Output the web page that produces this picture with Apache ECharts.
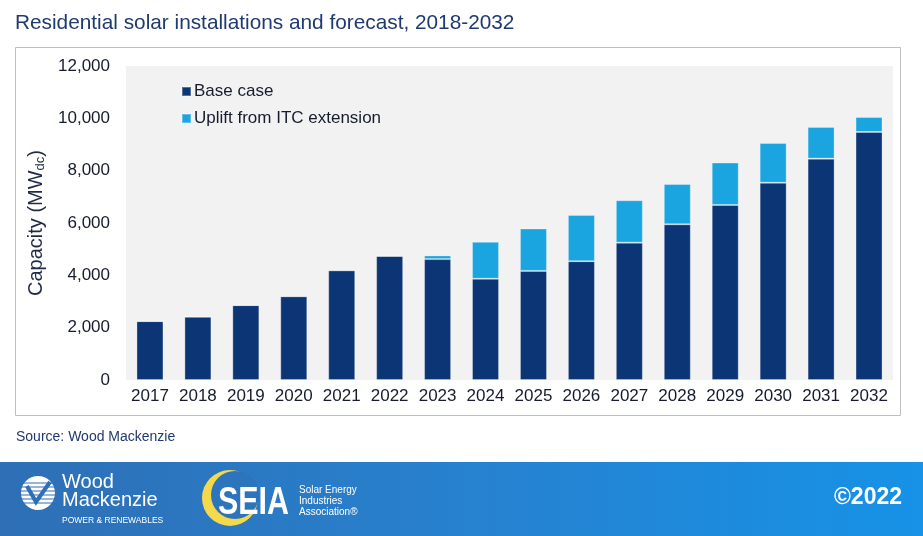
<!DOCTYPE html>
<html>
<head>
<meta charset="utf-8">
<script src="https://cdn.jsdelivr.net/npm/echarts@6/dist/echarts.min.js"></script>
<style>
html,body{margin:0;padding:0;background:#fff;}
#chart{width:923px;height:536px;}
</style>
</head>
<body>
<div id="chart"></div>
<script>
// ---- data ----
const categories = ['2017','2018','2019','2020','2021','2022','2023','2024','2025','2026','2027','2028','2029','2030','2031','2032'];
const baseCase = [2250, 2420, 2860, 3200, 4190, 4740, 4620, 3870, 4170, 4540, 5250, 5950, 6690, 7540, 8460, 9480];
const uplift   = [0, 0, 0, 0, 0, 0, 140, 1410, 1620, 1770, 1620, 1540, 1620, 1520, 1210, 570];
const yTicks = { min: 0, max: 12000, interval: 2000 };
const seriesNames = ['Base case', 'Uplift from ITC extension'];

const FONT = 'Liberation Sans, Arial, sans-serif';
const chart = echarts.init(document.getElementById('chart'), null, { renderer: 'canvas' });

const option = {
  backgroundColor: '#ffffff',
  animation: false,
  title: {
    text: 'Residential solar installations and forecast, 2018-2032',
    left: 10, top: 8,
    textStyle: { fontFamily: FONT, fontSize: 20.8, fontWeight: 'normal', color: '#1f3a6e' }
  },
  grid: {
    left: 126, top: 66, right: 30, bottom: 156,
    show: true, backgroundColor: '#f2f2f2', borderWidth: 0
  },
  legend: {
    orient: 'vertical', left: 181, top: 83, padding: 0,
    itemWidth: 9, itemHeight: 9, itemGap: 10, icon: 'rect',
    data: seriesNames,
    textStyle: { fontFamily: FONT, fontSize: 17, color: '#161c2e', padding: [0, 0, 0, -2] }
  },
  xAxis: {
    type: 'category', data: categories,
    axisLine: { show: false }, axisTick: { show: false },
    axisLabel: { interval: 0, fontFamily: FONT, fontSize: 17, color: '#161c2e', margin: 8 }
  },
  yAxis: {
    type: 'value', min: yTicks.min, max: yTicks.max, interval: yTicks.interval,
    splitLine: { show: false }, axisLine: { show: false }, axisTick: { show: false },
    axisLabel: {
      fontFamily: FONT, fontSize: 17, color: '#161c2e', margin: 16,
      formatter: v => v.toLocaleString('en-US')
    },
    name: 'Capacity (MW{sub|dc})',
    nameLocation: 'middle', nameRotate: 90, nameGap: 77,
    nameTextStyle: {
      fontFamily: FONT, fontSize: 20, color: '#1f2a44',
      rich: { sub: { fontFamily: FONT, fontSize: 13, color: '#1f2a44', padding: [9, 0, 0, 0] } }
    }
  },
  series: [
    {
      name: seriesNames[0], type: 'bar', stack: 'total', data: baseCase,
      barWidth: 27,
      itemStyle: { color: '#0c3576', borderColor: 'rgba(255,255,255,0.3)', borderWidth: 1 }
    },
    {
      name: seriesNames[1], type: 'bar', stack: 'total', data: uplift,
      barWidth: 27,
      itemStyle: { color: '#1ba5e0', borderColor: 'rgba(255,255,255,0.3)', borderWidth: 1 }
    }
  ],
  graphic: [
    // outer frame
    { type: 'rect', silent: true, z: -1, shape: { x: 15.5, y: 47.5, width: 885, height: 368 },
      style: { fill: 'none', stroke: '#bfbfbf', lineWidth: 1 } },
    // source
    { type: 'text', left: 16, top: 430,
      style: { text: 'Source: Wood Mackenzie', font: '14px ' + FONT, fill: '#1f3a6e' } },
    // footer band
    { type: 'rect', silent: true, shape: { x: 0, y: 462, width: 923, height: 74 },
      style: { fill: new echarts.graphic.LinearGradient(0, 0, 1, 0, [
        { offset: 0, color: '#2e6fb5' }, { offset: 0.5, color: '#2781cf' }, { offset: 1, color: '#1792e6' }
      ]) } },
    // Wood Mackenzie emblem
    { type: 'circle', silent: true, shape: { cx: 38, cy: 493, r: 17 }, style: { fill: '#ffffff' } },
    { type: 'group', silent: true, children: [
      { type: 'line', shape: { x1: 20, y1: 483, x2: 56, y2: 483 }, style: { stroke: '#2e6fb5', lineWidth: 1.2 } },
      { type: 'line', shape: { x1: 20, y1: 487, x2: 56, y2: 487 }, style: { stroke: '#2e6fb5', lineWidth: 1.2 } },
      { type: 'line', shape: { x1: 20, y1: 491, x2: 56, y2: 491 }, style: { stroke: '#2e6fb5', lineWidth: 1.2 } },
      { type: 'line', shape: { x1: 20, y1: 495, x2: 56, y2: 495 }, style: { stroke: '#2e6fb5', lineWidth: 1.2 } },
      { type: 'line', shape: { x1: 20, y1: 499, x2: 56, y2: 499 }, style: { stroke: '#2e6fb5', lineWidth: 1.2 } },
      { type: 'line', shape: { x1: 20, y1: 503, x2: 56, y2: 503 }, style: { stroke: '#2e6fb5', lineWidth: 1.2 } },
      { type: 'polyline', shape: { points: [[27, 486], [36, 502], [50, 482]] }, style: { stroke: '#2e6fb5', lineWidth: 4, fill: 'none' } }
    ] },
    { type: 'text', left: 62, top: 472, style: { text: 'Wood', font: '20px ' + FONT, fill: '#ffffff' } },
    { type: 'text', left: 62, top: 490, style: { text: 'Mackenzie', font: '20px ' + FONT, fill: '#ffffff' } },
    { type: 'text', left: 62, top: 516, style: { text: 'POWER & RENEWABLES', font: '8.5px ' + FONT, fill: '#ffffff' } },
    // SEIA logo
    { type: 'circle', silent: true, shape: { cx: 230, cy: 498, r: 28 }, style: { fill: '#f5d94a' } },
    { type: 'circle', silent: true, shape: { cx: 235, cy: 495, r: 24 }, style: { fill: '#2c74bb' } },
    { type: 'text', x: 218, y: 484, scaleX: 0.78, style: { text: 'SEIA', font: 'bold 39px ' + FONT, fill: '#ffffff' } },
    { type: 'text', left: 299, top: 485, style: { text: 'Solar Energy', font: '10px ' + FONT, fill: '#ffffff' } },
    { type: 'text', left: 299, top: 496, style: { text: 'Industries', font: '10px ' + FONT, fill: '#ffffff' } },
    { type: 'text', left: 299, top: 507, style: { text: 'Association®', font: '10px ' + FONT, fill: '#ffffff' } },
    // copyright
    { type: 'text', right: 21, top: 486, style: { text: '©2022', font: 'bold 23px ' + FONT, fill: '#ffffff' } }
  ]
};
chart.setOption(option);
</script>
</body>
</html>
